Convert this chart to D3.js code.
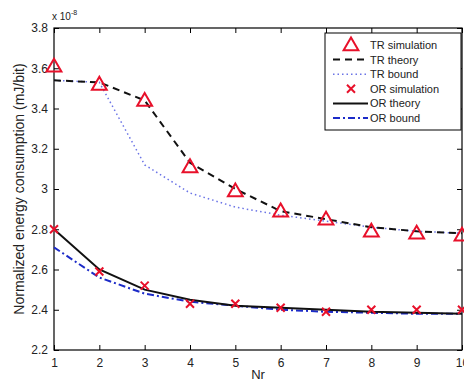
<!DOCTYPE html>
<html>
<head>
<meta charset="utf-8">
<script src="https://cdn.jsdelivr.net/npm/d3@7"></script>
<style>
  body { margin: 0; background: #fff; }
  svg text { font-family: "Liberation Sans", Arial, sans-serif; }
</style>
</head>
<body>
<div id="chart"></div>
<script>
// Data (values in units of 1e-8 mJ/bit)
var nr = [1, 2, 3, 4, 5, 6, 7, 8, 9, 10];
var tr_simulation = [3.61, 3.52, 3.44, 3.11, 2.99, 2.89, 2.85, 2.79, 2.78, 2.77];
var tr_theory = [3.54, 3.53, 3.44, 3.13, 3.00, 2.89, 2.85, 2.81, 2.79, 2.78];
var tr_bound = [3.54, 3.53, 3.12, 2.98, 2.91, 2.87, 2.84, 2.81, 2.79, 2.78];
var or_simulation = [2.80, 2.59, 2.52, 2.43, 2.43, 2.41, 2.39, 2.40, 2.40, 2.40];
var or_theory = [2.80, 2.60, 2.50, 2.45, 2.42, 2.41, 2.40, 2.39, 2.385, 2.38];
var or_bound = [2.71, 2.56, 2.48, 2.44, 2.42, 2.40, 2.39, 2.385, 2.38, 2.38];
var y_ticks = [2.2, 2.4, 2.6, 2.8, 3, 3.2, 3.4, 3.6, 3.8];

var WIDTH = 464, HEIGHT = 383;
var margin = {left: 54, right: 2, top: 28, bottom: 33};

let svg = d3.select("#chart")
            .append("svg")
              .attr("width", WIDTH)
              .attr("height", HEIGHT);

let xscale = d3.scaleLinear()
               .domain([1, 10])
               .range([margin.left, WIDTH - margin.right]);

let yscale = d3.scaleLinear()
               .domain([2.2, 3.8])
               .range([HEIGHT - margin.bottom, margin.top]);

let x0 = xscale.range()[0], x1 = xscale.range()[1];
let y0 = yscale.range()[0], y1 = yscale.range()[1];

// Axes (MATLAB style: ticks inside, on all four sides)
let x_axis = d3.axisBottom(xscale).tickValues(nr).tickSizeInner(-5).tickSizeOuter(0).tickPadding(8);
let y_axis = d3.axisLeft(yscale).tickValues(y_ticks).tickSizeInner(-5).tickSizeOuter(0).tickPadding(6)
               .tickFormat(d3.format("~g"));
let x_top = d3.axisTop(xscale).tickValues(nr).tickSizeInner(-5).tickSizeOuter(0).tickFormat("");
let y_right = d3.axisRight(yscale).tickValues(y_ticks).tickSizeInner(-5).tickSizeOuter(0).tickFormat("");

svg.append("g").attr("transform", `translate(0,${y0})`).call(x_axis);
svg.append("g").attr("transform", `translate(${x0},0)`).call(y_axis);
svg.append("g").attr("transform", `translate(0,${y1})`).call(x_top);
svg.append("g").attr("transform", `translate(${x1},0)`).call(y_right);

svg.selectAll(".domain").remove();
svg.selectAll(".tick line").attr("stroke", "#000").attr("stroke-width", 1);
svg.selectAll(".tick text").attr("font-size", 12).attr("fill", "#222");

svg.append("rect")
   .attr("x", x0).attr("y", y1)
   .attr("width", x1 - x0).attr("height", y0 - y1)
   .attr("fill", "none").attr("stroke", "#000").attr("stroke-width", 1.2);

// Exponent label
let expo = svg.append("text").attr("x", 52).attr("y", 20).attr("font-size", 10).attr("fill", "#222");
expo.append("tspan").text("x 10");
expo.append("tspan").attr("dy", -5).attr("font-size", 7).text("-8");

// Axis titles
svg.append("text")
   .attr("x", (x0 + x1) / 2).attr("y", 379)
   .attr("text-anchor", "middle").attr("font-size", 13).attr("fill", "#222")
   .text("Nr");

svg.append("text")
   .attr("transform", `translate(24,${(y0 + y1) / 2}) rotate(-90)`)
   .attr("text-anchor", "middle").attr("font-size", 14).attr("fill", "#222")
   .text("Normalized energy consumption (mJ/bit)");

// Lines
let line = d3.line()
             .x(function (d, i) { return xscale(nr[i]); })
             .y(function (d) { return yscale(d); });

let styles = {
  tr_theory: {stroke: "#111", width: 2, dash: "7,5"},
  tr_bound: {stroke: "#6b74e6", width: 1.5, dash: "1.5,3"},
  or_theory: {stroke: "#111", width: 2, dash: null},
  or_bound: {stroke: "#1c2bc8", width: 2, dash: "7,3,2,3"}
};

function draw_line(values, st) {
  svg.append("path")
     .datum(values)
     .attr("d", line)
     .attr("fill", "none")
     .attr("stroke", st.stroke)
     .attr("stroke-width", st.width)
     .attr("stroke-dasharray", st.dash);
}

draw_line(tr_bound, styles.tr_bound);
draw_line(or_bound, styles.or_bound);
draw_line(or_theory, styles.or_theory);
draw_line(tr_theory, styles.tr_theory);

// Markers
let tri = d3.symbol().type(d3.symbolTriangle).size(95);

function draw_triangle(g, x, y) {
  g.append("path")
   .attr("d", tri)
   .attr("transform", `translate(${x},${y + 1})`)
   .attr("fill", "none")
   .attr("stroke", "#e8102a")
   .attr("stroke-width", 2);
}

function draw_cross(g, x, y) {
  let s = 4;
  g.append("path")
   .attr("d", `M${x - s},${y - s}L${x + s},${y + s}M${x - s},${y + s}L${x + s},${y - s}`)
   .attr("stroke", "#e8102a")
   .attr("stroke-width", 2);
}

let marks = svg.append("g");
tr_simulation.forEach(function (v, i) { draw_triangle(marks, xscale(nr[i]), yscale(v)); });
or_simulation.forEach(function (v, i) { draw_cross(marks, xscale(nr[i]), yscale(v)); });

// Legend
let legend = svg.append("g");
legend.append("rect")
      .attr("x", 325).attr("y", 33).attr("width", 136).attr("height", 97)
      .attr("fill", "#fff").attr("stroke", "#000").attr("stroke-width", 1);

let entries = [
  {label: "TR simulation", kind: "tri"},
  {label: "TR theory", kind: "line", st: styles.tr_theory},
  {label: "TR bound", kind: "line", st: styles.tr_bound},
  {label: "OR simulation", kind: "cross"},
  {label: "OR theory", kind: "line", st: styles.or_theory},
  {label: "OR bound", kind: "line", st: styles.or_bound}
];

entries.forEach(function (e, i) {
  let y = 45 + i * 14.6;
  if (e.kind === "tri") {
    draw_triangle(legend, 351, y);
  } else if (e.kind === "cross") {
    draw_cross(legend, 351, y);
  } else {
    legend.append("line")
          .attr("x1", 333).attr("x2", 368).attr("y1", y).attr("y2", y)
          .attr("stroke", e.st.stroke)
          .attr("stroke-width", e.st.width)
          .attr("stroke-dasharray", e.st.dash);
  }
  legend.append("text")
        .attr("x", 370).attr("y", y + 4)
        .attr("font-size", 11).attr("fill", "#222")
        .text(e.label);
});
</script>
</body>
</html>
